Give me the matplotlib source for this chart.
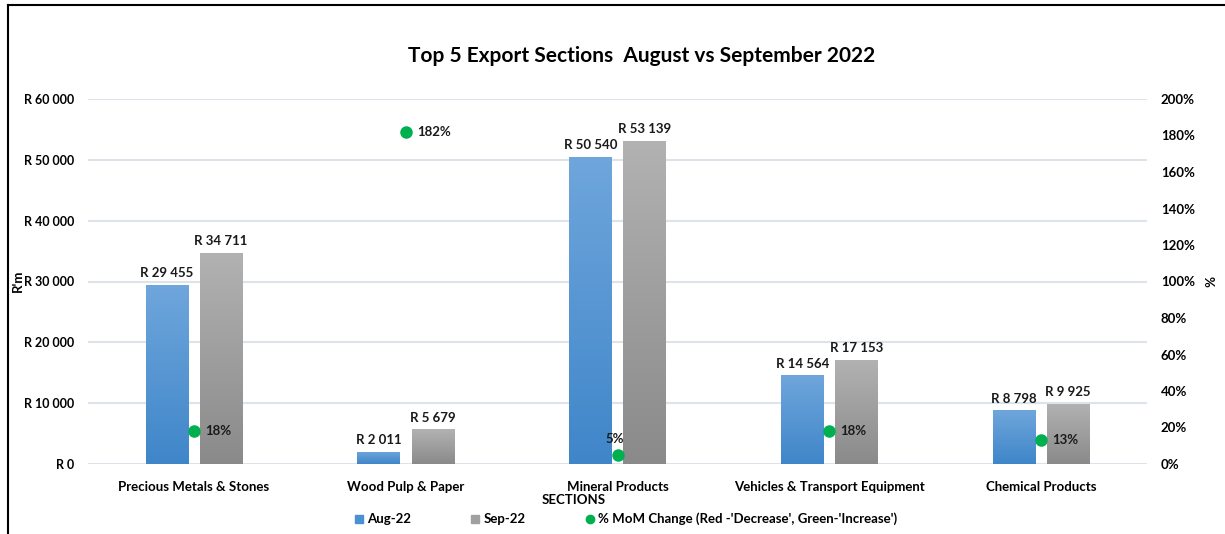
import matplotlib
matplotlib.use("Agg")
import matplotlib.pyplot as plt
import numpy as np
from matplotlib.lines import Line2D
from matplotlib.colors import LinearSegmentedColormap
from matplotlib.ticker import FuncFormatter, MultipleLocator

categories = ["Precious Metals & Stones", "Wood Pulp & Paper", "Mineral Products",
              "Vehicles & Transport Equipment", "Chemical Products"]
aug_22 = [29455, 2011, 50540, 14564, 8798]
sep_22 = [34711, 5679, 53139, 17153, 9925]
mom_pct = [18, 182, 5, 18, 13]

plt.rcParams['font.family'] = ['Lato', 'DejaVu Sans']

fig = plt.figure(figsize=(12.25, 5.34), dpi=100)
ax = fig.add_axes([88/1225, 70/534, (1147-88)/1225, 365/534])
ax2 = ax.twinx()

x = np.arange(len(categories))
w = 0.2
off = 0.128

blue_cmap = LinearSegmentedColormap.from_list("b", ["#3f86c9", "#6fa6dc"])
gray_cmap = LinearSegmentedColormap.from_list("g", ["#8a8a8a", "#b2b2b2"])

def grad_bars(xs, vals, cmap):
    bars = ax.bar(xs, vals, width=w, color="none", edgecolor="none", zorder=2)
    grad = np.linspace(0, 1, 256).reshape(-1, 1)
    for b in bars:
        x0, y0 = b.get_x(), b.get_y()
        x1, y1 = x0 + b.get_width(), y0 + b.get_height()
        im = ax.imshow(grad, cmap=cmap, extent=[x0, x1, y0, y1], origin="lower",
                       aspect="auto", zorder=2)
        im.set_clip_path(b)
    return bars

b1 = grad_bars(x - off, aug_22, blue_cmap)
b2 = grad_bars(x + off, sep_22, gray_cmap)

def rfmt(v):
    return "R " + f"{int(round(v)):,}".replace(",", " ")

FS = 9.5
for xs, vals in ((x - off, aug_22), (x + off, sep_22)):
    for xi, v in zip(xs, vals):
        ax.annotate(rfmt(v), (xi, v), xytext=(0, 4), textcoords="offset points",
                    ha="center", va="bottom", fontsize=FS, fontweight="bold", color="#1a1a1a")

ax.set_xlim(-0.5, len(categories) - 0.5)
ax.set_ylim(0, 60000)
ax.yaxis.set_major_locator(MultipleLocator(10000))
ax.yaxis.set_major_formatter(FuncFormatter(lambda v, p: rfmt(v)))
ax.grid(axis="y", color="#dde3eb", linewidth=1.5, zorder=0)
ax.set_axisbelow(True)
for s in ax.spines.values():
    s.set_visible(False)
for s in ax2.spines.values():
    s.set_visible(False)
ax.tick_params(axis="both", length=0)
ax.tick_params(axis="y", pad=10, labelsize=9)
for t in ax.get_yticklabels():
    t.set_fontweight("bold")
ax.set_xticks(x)
ax.set_xticklabels(categories, fontsize=FS, fontweight="bold")
ax.tick_params(axis="x", pad=12)

ax2.set_ylim(0, 200)
ax2.yaxis.set_major_locator(MultipleLocator(20))
ax2.yaxis.set_major_formatter(FuncFormatter(lambda v, p: f"{int(v)}%"))
ax2.tick_params(axis="y", length=0, pad=10, labelsize=FS)
for t in ax2.get_yticklabels():
    t.set_fontweight("bold")

ax2.plot(x, mom_pct, linestyle="none", marker="o", markersize=8, color="#00b050",
         zorder=5)
for xi, p in zip(x, mom_pct):
    if p < 8:
        ax2.annotate(f"{p}%", (xi, p), xytext=(-2, 7), textcoords="offset points",
                     ha="center", va="bottom", fontsize=FS, fontweight="bold", color="#1a1a1a")
    else:
        ax2.annotate(f"{p}%", (xi, p), xytext=(8, 0), textcoords="offset points",
                     ha="left", va="center", fontsize=FS, fontweight="bold", color="#1a1a1a")

fig.text(642/1225, 1 - 56/534, "Top 5 Export Sections  August vs September 2022",
         ha="center", va="center", fontsize=15, fontweight="bold")
fig.text(18/1225, 1 - 281/534, "R'm", rotation=90, ha="center", va="center",
         fontsize=FS, fontweight="bold")
fig.text(1208/1225, 1 - 281/534, "%", rotation=-90, ha="center", va="center",
         fontsize=FS, fontweight="bold")
fig.text(574/1225, 1 - 500/534, "SECTIONS", ha="center", va="center",
         fontsize=FS, fontweight="bold")

handles = [Line2D([], [], marker="s", linestyle="none", color="#4a90d6", markersize=6),
           Line2D([], [], marker="s", linestyle="none", color="#a0a0a0", markersize=6),
           Line2D([], [], marker="o", linestyle="none", color="#00b050", markersize=6)]
labels = ["Aug-22", "Sep-22", "% MoM Change (Red -'Decrease', Green-'Increase')"]
leg = fig.legend(handles, labels, loc="center", bbox_to_anchor=(626/1225, 1 - 519/534),
                 ncol=3, frameon=False, fontsize=FS, handlelength=0.6, handletextpad=0.3,
                 columnspacing=4.6)
for t in leg.get_texts():
    t.set_fontweight("bold")

fig.add_artist(Line2D([8/1225, 8/1225], [0, 1 - 5/534], color="black", linewidth=1.5))
fig.add_artist(Line2D([8/1225, 1], [1 - 5/534, 1 - 5/534], color="black", linewidth=1.5))

fig.savefig("out.png", dpi=100)
